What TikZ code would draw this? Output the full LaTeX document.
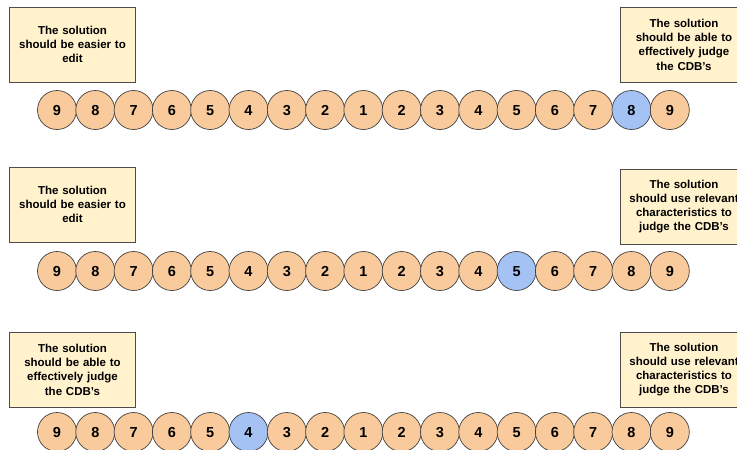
\documentclass[tikz,border=0pt]{standalone}
\usepackage{fontspec}
\setmainfont{Liberation Sans}
\usetikzlibrary{positioning}
\definecolor{peach}{HTML}{F9CB9C}
\definecolor{skyblue}{HTML}{A4C2F4}
\definecolor{notefill}{HTML}{FFF2CC}
\begin{document}
\begin{tikzpicture}[
		x=1pt, y=-1pt,
		node distance=-1.4pt,
		bead/.style={circle, draw=black!75, fill=peach, minimum size=39pt, inner sep=0pt, line width=0.7pt, text height=10.5pt, text depth=0pt, font=\bfseries\fontsize{14.5}{14.5}\selectfont},
		marked/.style={bead, fill=skyblue},
		note/.style={rectangle, draw=black!70, fill=notefill, minimum width=125pt, minimum height=75pt, text width=120pt, align=center, line width=0.7pt, font=\bfseries\fontsize{11.5}{14.3}\selectfont}
		]
		\useasboundingbox (0,0) rectangle (737,450);
		\clip (0,0) rectangle (737,450);
		
		% Notes
		\node (n1l) [note] at (72.5,44.5) {The solution\\ should be easier to\\ edit};
		\node (n1r) [note] at (684,44.5) {The solution\\ should be able to\\ effectively judge\\ the CDB’s};
		\node (n2l) [note] at (72.5,204.5) {The solution\\ should be easier to\\ edit};
		\node (n2r) [note] at (684,206.5) {The solution\\ should use relevant\\ characteristics to\\ judge the CDB’s};
		\node (n3l) [note] at (72.5,369.5) {The solution\\ should be able to\\ effectively judge\\ the CDB’s};
		\node (n3r) [note] at (684,369.5) {The solution\\ should use relevant\\ characteristics to\\ judge the CDB’s};
		
		% Beads
		\foreach \row/\y/\hit in {a/110/16, b/271/13, c/432/6} {
			\node (\row1) [bead] at (57,\y) {9};
			\foreach \i/\lbl [count=\k from 2, remember=\k as \prev (initially 1)] in {2/8,3/7,4/6,5/5,6/4,7/3,8/2,9/1,10/2,11/3,12/4,13/5,14/6,15/7,16/8,17/9} {
				\ifnum\i=\hit
					\node (\row\i) [marked, right=of \row\prev] {\lbl};
				\else
					\node (\row\i) [bead, right=of \row\prev] {\lbl};
				\fi
			}
		}
		
	\end{tikzpicture}
\end{document}
